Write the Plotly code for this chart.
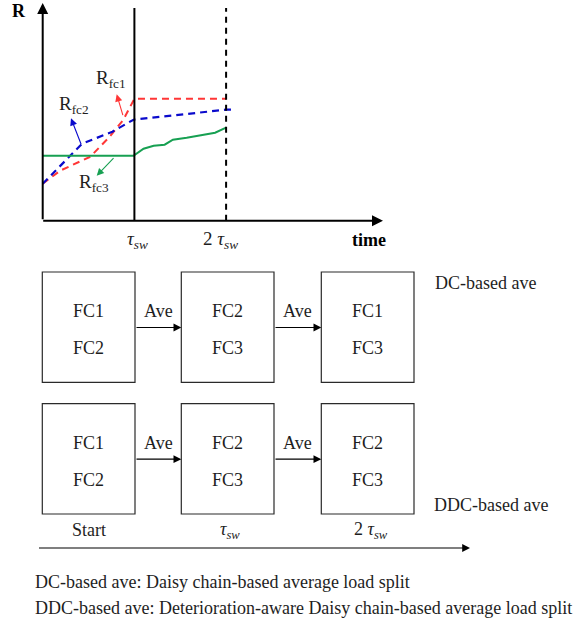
import plotly.graph_objects as go

W, H = 581, 625

# ---------------- data (top chart) ----------------
# time in units of tau_sw, R in arbitrary units
t_fc1 = [0, 0.19, 0.52, 0.73, 0.88, 1.0, 2.0]
r_fc1 = [0.37, 0.50, 0.64, 0.84, 1.01, 1.22, 1.22]
t_fc2 = [0, 0.43, 0.76, 0.99, 2.0, 2.07]
r_fc2 = [0.37, 0.77, 0.89, 1.01, 1.11, 1.11]
t_fc3 = [0, 0.99, 1.10, 1.21, 1.33, 1.42, 1.57, 1.75, 1.88, 2.0]
r_fc3 = [0.65, 0.65, 0.72, 0.75, 0.76, 0.81, 0.83, 0.86, 0.88, 0.93]
switch_times = [1, 2]
tick_labels = ["<i>τ<sub>sw</sub></i>", "2 <i>τ<sub>sw</sub></i>"]

# ---------------- data (bottom diagram) ----------------
rows = ["DC-based ave", "DDC-based ave"]
row_boxes = [
    [("FC1", "FC2"), ("FC2", "FC3"), ("FC1", "FC3")],
    [("FC1", "FC2"), ("FC2", "FC3"), ("FC2", "FC3")],
]
stage_labels = ["Start", "<i>τ<sub>sw</sub></i>", "2 <i>τ<sub>sw</sub></i>"]
transition_label = "Ave"
notes = [
    "DC-based ave: Daisy chain-based average load split",
    "DDC-based ave: Deterioration-aware Daisy chain-based average load split",
]

# ---------------- layout geometry ----------------
X0, PXT = 42.7, 91.7      # pixel of t=0, pixels per tau
Y0, PXR = 220.7, 100.0    # pixel of R=0, pixels per R unit
FONT = "Liberation Serif"
TXT = "#1e1e1e"
RED, BLUE, GREEN = "#ff3636", "#0a0acc", "#17a052"

def tx(px):
    return (px - X0) / PXT

def ry(py):
    return (Y0 - py) / PXR

fig = go.Figure()
fig.add_trace(go.Scatter(x=t_fc1, y=r_fc1, mode="lines",
                         line=dict(color=RED, width=2, dash="7px,5px"), hoverinfo="skip"))
fig.add_trace(go.Scatter(x=t_fc2, y=r_fc2, mode="lines",
                         line=dict(color=BLUE, width=2.2, dash="7px,5px"), hoverinfo="skip"))
fig.add_trace(go.Scatter(x=t_fc3, y=r_fc3, mode="lines",
                         line=dict(color=GREEN, width=2), hoverinfo="skip"))

top_r = ry(8)
fig.add_trace(go.Scatter(x=[switch_times[0]] * 2, y=[0, top_r], mode="lines",
                         line=dict(color="black", width=2), hoverinfo="skip"))
fig.add_trace(go.Scatter(x=[switch_times[1]] * 2, y=[0, top_r], mode="lines",
                         line=dict(color="black", width=2, dash="6px,5px"), hoverinfo="skip"))

ann = []

def arrow(x1, y1, x0, y0, color, width, size, xr="x", yr="y"):
    ann.append(dict(x=x1, y=y1, ax=x0, ay=y0, xref=xr, yref=yr, axref=xr, ayref=yr,
                    text="", showarrow=True, arrowhead=2, arrowsize=size, arrowwidth=width,
                    arrowcolor=color, standoff=0, startstandoff=0))

# axes with arrows
arrow(0, ry(3), 0, 0, "black", 2, 1.1)
arrow(tx(383), 0, tx(41.7), 0, "black", 2, 1.1)
# axis titles
ann.append(dict(x=tx(19), y=ry(11), xref="x", yref="y", text="<b>R</b>", showarrow=False,
                xanchor="center", font=dict(family=FONT, size=18, color="black")))
ann.append(dict(x=tx(369), y=ry(240), xref="x", yref="y", text="<b>time</b>", showarrow=False,
                xanchor="center", font=dict(family=FONT, size=18, color="black")))
# tick labels
for t, lab, dx in zip(switch_times, tick_labels, [3, -6]):
    ann.append(dict(x=t + dx / PXT, y=ry(240), xref="x", yref="y", text=lab, showarrow=False,
                    xanchor="center", font=dict(family=FONT, size=19, color=TXT)))

# curve labels with arrows
curve_labels = [
    ("R<sub>fc1</sub>", (111, 79), (116.7, 94.3), (123.3, 116.7), RED),
    ("R<sub>fc2</sub>", (74, 105), (71, 118.3), (81.7, 145.7), BLUE),
    ("R<sub>fc3</sub>", (94, 183), (96.7, 175.7), (115, 156.7), GREEN),
]
for text, (lx, ly), (hx, hy), (sx, sy), col in curve_labels:
    ann.append(dict(x=tx(lx), y=ry(ly), xref="x", yref="y", text=text, showarrow=False,
                    xanchor="center", font=dict(family=FONT, size=19, color=TXT)))
    arrow(tx(hx), ry(hy), tx(sx), ry(sy), col, 1.1, 1.3)

# ---------------- bottom diagram (pixel-unit overlay axes x2/y2) ----------------
shapes = []
box_left = [42.3, 181.3, 321.3]
box_w = 92.7
row_top = [272.0, 403.7]
box_h = 110.3
for ri, (row, boxes) in enumerate(zip(rows, row_boxes)):
    top = row_top[ri]
    for ci, (a, b) in enumerate(boxes):
        shapes.append(dict(type="rect", xref="x2", yref="y2", x0=box_left[ci],
                           x1=box_left[ci] + box_w, y0=top, y1=top + box_h,
                           line=dict(color="#2a2a2a", width=1.2)))
        cx = box_left[ci] + box_w / 2
        for k, lab in enumerate((a, b)):
            ann.append(dict(x=cx, y=top + 39 + k * 37, xref="x2", yref="y2", text=lab,
                            xanchor="center", yanchor="middle",
                            showarrow=False, font=dict(family=FONT, size=18, color=TXT)))
        if ci < len(boxes) - 1:
            xs = box_left[ci] + box_w
            xe = box_left[ci + 1]
            arrow(xe, top + 55.5, xs, top + 55.5, "black", 1.2, 1.3, "x2", "y2")
            ann.append(dict(x=(xs + xe) / 2, y=top + 39, xref="x2", yref="y2",
                            text=transition_label, xanchor="center", yanchor="middle",
                            showarrow=False, font=dict(family=FONT, size=18, color=TXT)))
row_label_pos = [(432.5, 283), (431.5, 505)]
for row, (lx, ly) in zip(rows, row_label_pos):
    ann.append(dict(x=lx, y=ly, xref="x2", yref="y2", text=row, xanchor="left",
                    yanchor="middle", showarrow=False, font=dict(family=FONT, size=18, color=TXT)))
stage_dx = [0, 2, 3]
for ci, lab in enumerate(stage_labels):
    ann.append(dict(x=box_left[ci] + box_w / 2 + stage_dx[ci], y=530, xref="x2", yref="y2",
                    text=lab, xanchor="center", yanchor="middle",
                    showarrow=False, font=dict(family=FONT, size=18, color=TXT)))
# time line arrow
arrow(470, 548, 37.5, 548, "black", 1.2, 1.3, "x2", "y2")
for k, note in enumerate(notes):
    ann.append(dict(x=33, y=582 + k * 26, xref="x2", yref="y2", text=note, xanchor="left",
                    yanchor="middle", showarrow=False, font=dict(family=FONT, size=18, color=TXT)))

fig.update_layout(
    width=W, height=H, margin=dict(l=0, r=0, t=0, b=0),
    paper_bgcolor="white", plot_bgcolor="white", showlegend=False,
    xaxis=dict(range=[tx(0), tx(W)], visible=False, fixedrange=True),
    yaxis=dict(range=[ry(H), ry(0)], visible=False, fixedrange=True),
    xaxis2=dict(range=[0, W], visible=False, fixedrange=True, overlaying="x", anchor="y2"),
    yaxis2=dict(range=[H, 0], visible=False, fixedrange=True, overlaying="y", anchor="x2"),
    annotations=ann, shapes=shapes,
)
fig.write_html("out.html", config={"displayModeBar": False},
               post_script="document.body.style.margin='0';document.body.style.overflow='hidden';")
